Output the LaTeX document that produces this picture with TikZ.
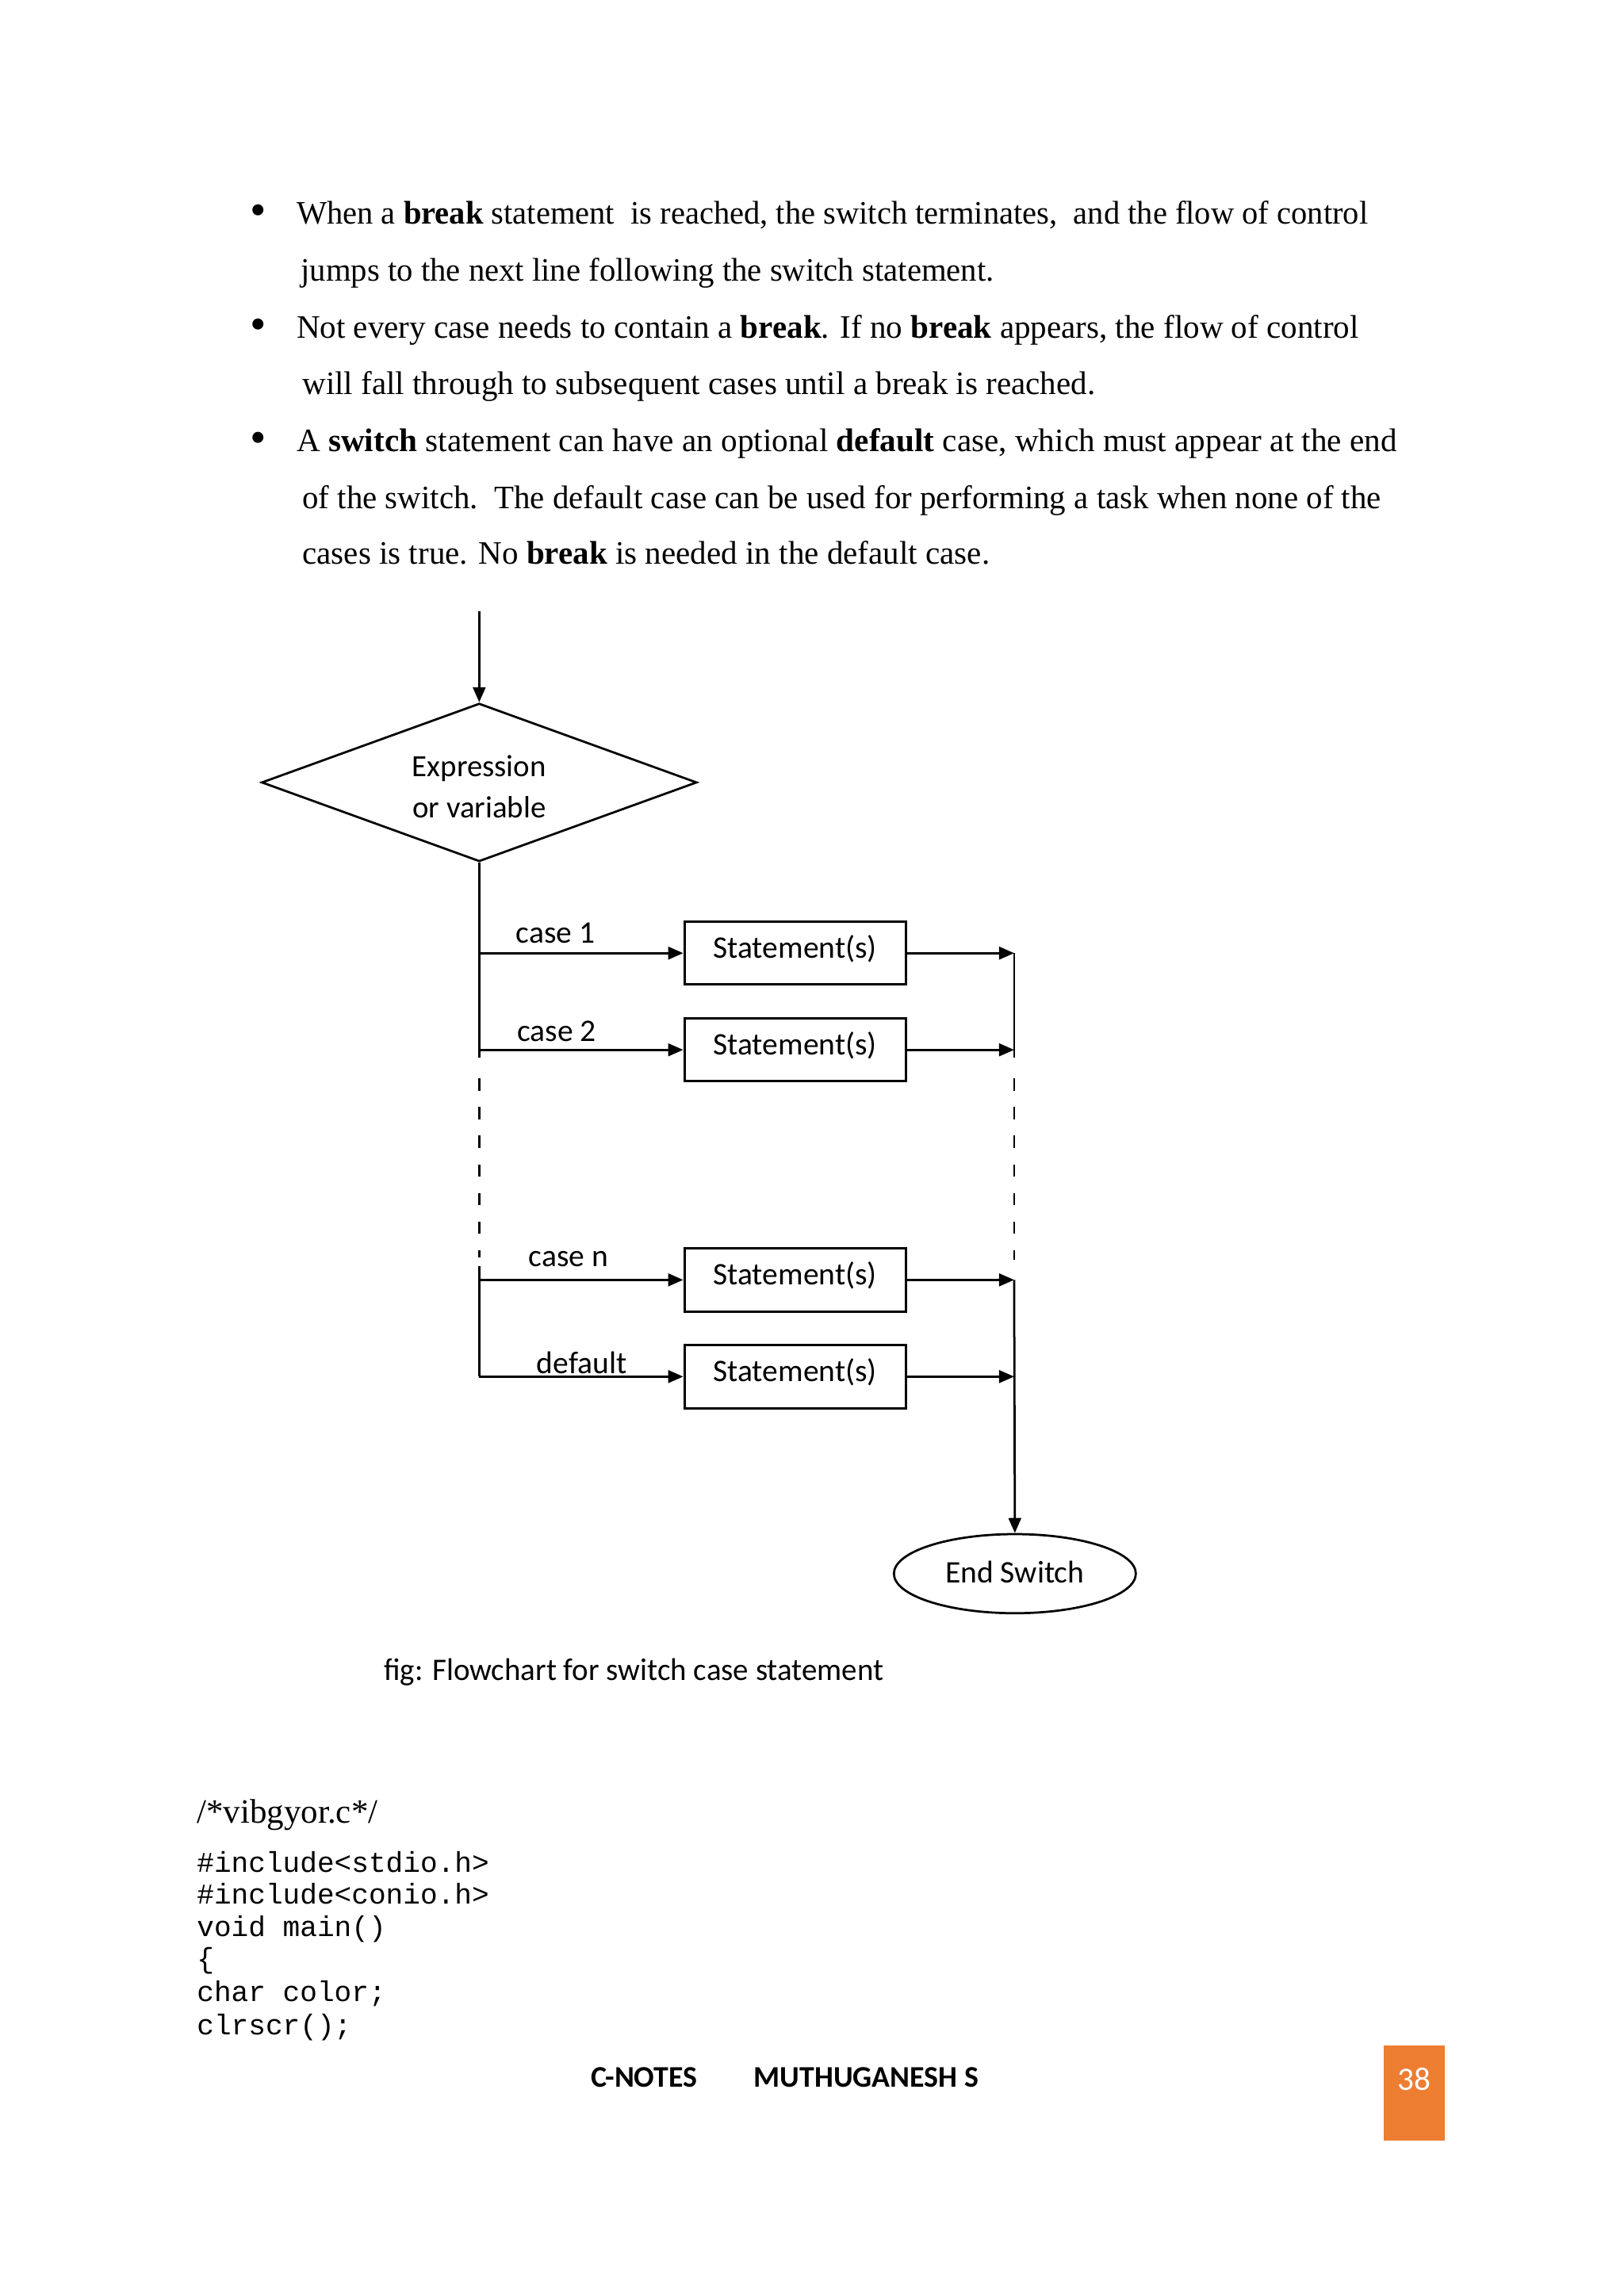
\documentclass[tikz,border=0pt]{standalone}
\usepackage{fontspec}
\setmainfont{Liberation Serif}
\newfontfamily\diag{Carlito}
\newfontfamily\codefont{Liberation Mono}
\usetikzlibrary{shapes.geometric,arrows.meta}
\definecolor{orangebox}{HTML}{ED7D31}
\begin{document}
\begin{tikzpicture}[x=0.5373pt,y=-0.5373pt,
  line/.style={line width=0.8pt},
  arr/.style={line width=0.8pt,-{Triangle[length=5.5pt,width=4.6pt]}},
  dashline/.style={line width=0.8pt,dash pattern=on 4.5pt off 6pt},
  body/.style={anchor=base west,inner sep=0pt,font=\fontsize{12}{14}\selectfont},
  bul/.style={anchor=base,inner sep=0pt,font=\fontsize{17}{14}\selectfont},
  stbox/.style={draw,line width=0.9pt,rectangle,minimum width=81.1pt,minimum height=23.1pt,inner sep=0pt,font=\diag\fontsize{11.5}{13}\selectfont},
  lbl/.style={inner sep=0pt,font=\diag\fontsize{11.5}{13}\selectfont},
  code/.style={anchor=base west,inner sep=0pt,font=\codefont\fontsize{10.5}{12}\selectfont}]
\fill[white] (0,0) rectangle (1108,1567);
\useasboundingbox (0,0) rectangle (1108,1567);

% ---- bullet text ----
\node[bul] (b1) at (176,154) {\textbullet};
\node[bul] (b2) at (176,232) {\textbullet};
\node[bul] (b3) at (176,309) {\textbullet};
\node[body] (t1) at (202,153) {\resizebox{392.8pt}{\height}{When a \textbf{break} statement\ \ is reached, the switch terminates,\ \ and the flow of control}};
\node[body] (t2) at (205,192) {\resizebox{254.1pt}{\height}{jumps to the next line following the switch statement.}};
\node[body] (t3) at (202,231) {\resizebox{389.5pt}{\height}{Not every case needs to contain a \textbf{break}. If no \textbf{break} appears, the flow of control}};
\node[body] (t4) at (206,269) {\resizebox{290.7pt}{\height}{will fall through to subsequent cases until a break is reached.}};
\node[body] (t5) at (202,308) {\resizebox{403.5pt}{\height}{A \textbf{switch} statement can have an optional \textbf{default} case, which must appear at the end}};
\node[body] (t6) at (206,347) {\resizebox{395.5pt}{\height}{of the switch.\ \ The default case can be used for performing a task when none of the}};
\node[body] (t7) at (206,385) {\resizebox{252.0pt}{\height}{cases is true. No \textbf{break} is needed in the default case.}};

% ---- flowchart ----
\coordinate (in) at (327,417);
\node[draw,line width=0.8pt,diamond,aspect=2.75,minimum width=159.6pt,minimum height=58pt,inner sep=0pt,
      font=\diag\fontsize{11.3}{15}\selectfont] (dia) at (327,534)
      {\raisebox{-2.4pt}[\height][\depth]{\begin{tabular}{@{}c@{}}Expression\\or variable\end{tabular}}};
\draw[arr] (in) -- (dia.north);

\node[stbox] (s1) at (542.5,650.5) {\raisebox{1.5pt}[\height][\depth]{Statement(s)}};
\node[stbox] (s2) at (542.5,716.5) {\raisebox{1.5pt}[\height][\depth]{Statement(s)}};
\node[stbox] (sn) at (542.5,873.5) {\raisebox{1.5pt}[\height][\depth]{Statement(s)}};
\node[stbox] (sd) at (542.5,939.5) {\raisebox{1.5pt}[\height][\depth]{Statement(s)}};
\node[draw,line width=0.8pt,ellipse,minimum width=88.7pt,minimum height=29pt,inner sep=0pt,
      font=\diag\fontsize{11.5}{13}\selectfont] (end) at (692.5,1074) {\raisebox{0.6pt}[\height][\depth]{End Switch}};

% left trunk
\coordinate (L1) at (327,650.5);
\coordinate (L2) at (327,716.5);
\coordinate (L2e) at (327,722);
\coordinate (Lda) at (327,736);
\coordinate (Ldb) at (327,858);
\coordinate (Lns) at (327,864);
\coordinate (Ln) at (327,873.5);
\coordinate (Ld) at (327,939.5);
\draw[line] (dia.south) -- (L2e);
\draw[dashline] (Lda) -- (Ldb);
\draw[line] (Lns) -- (Ld);

% right trunk
\coordinate (R1) at (692,650.5);
\coordinate (R2) at (692,716.5);
\coordinate (R2e) at (692,722);
\coordinate (Rda) at (692,736);
\coordinate (Rdb) at (692,860);
\coordinate (Rn) at (692,873.5);
\coordinate (Rd) at (692,939.5);
\draw[line] (R1) -- (R2e);
\draw[dashline] (Rda) -- (Rdb);
\draw[arr] (Rn) -- (end.north);

% case arrows
\draw[arr] (L1) -- (s1.west);
\draw[arr] (L2) -- (s2.west);
\draw[arr] (Ln) -- (sn.west);
\draw[arr] (Ld) -- (sd.west);
\draw[arr] (s1.east) -- (R1);
\draw[arr] (s2.east) -- (R2);
\draw[arr] (sn.east) -- (Rn);
\draw[arr] (sd.east) -- (Rd);

\node[lbl] (c1) at (379,637) {case 1};
\node[lbl] (c2) at (380,704) {case 2};
\node[lbl] (cn) at (388,859) {case n};
\node[lbl] (cd) at (397,930) {default};

\node[lbl,font=\diag\fontsize{11.5}{13}\selectfont] (cap) at (432.5,1141) {\resizebox{183.2pt}{\height}{fig: Flowchart for switch case statement}};

% ---- code ----
\node[anchor=base west,inner sep=0pt,font=\fontsize{12.5}{14}\selectfont] (fn) at (134,1244) {/*vibgyor.c*/};
\node[code] (k1) at (134,1278) {\#include<stdio.h>};
\node[code] (k2) at (134,1299.5) {\#include<conio.h>};
\node[code] (k3) at (134,1321.5) {void main()};
\node[code] (k4) at (134,1343.5) {\{};
\node[code] (k5) at (134,1366) {char color;};
\node[code] (k6) at (134,1388.5) {clrscr();};

% ---- footer ----
\node[anchor=west,inner sep=0pt,font=\diag\bfseries\fontsize{11}{13}\selectfont] (f1) at (403,1418) {C-NOTES};
\node[anchor=west,inner sep=0pt,font=\diag\bfseries\fontsize{11}{13}\selectfont] (f2) at (514,1418) {MUTHUGANESH S};
\fill[orangebox] (944,1396) rectangle (986,1461);
\node[inner sep=0pt,text=white,font=\diag\fontsize{12}{14}\selectfont] (pg) at (965,1419) {38};
\end{tikzpicture}
\end{document}
